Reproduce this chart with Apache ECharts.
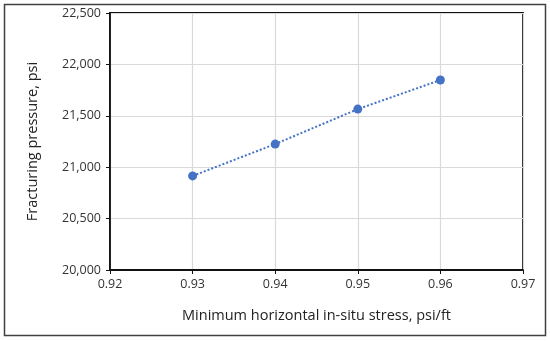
<!DOCTYPE html>
<html><head><meta charset="utf-8">
<script src="https://cdn.jsdelivr.net/npm/echarts@6/dist/echarts.min.js"></script>
<style>html,body{margin:0;padding:0;background:#fff}#c{width:550px;height:341px}</style>
</head><body><div id="c"></div>
<script>
const stress = [0.93, 0.94, 0.95, 0.96];
const pressure = [20915, 21225, 21565, 21848];
const xTitle = 'Minimum horizontal in-situ stress, psi/ft';
const yTitle = 'Fracturing pressure, psi';
const FONT = 'Open Sans';
const chart = echarts.init(document.getElementById('c'), null, {renderer: 'canvas'});
chart.setOption({
  animation: false,
  backgroundColor: '#fff',
  graphic: [{type: 'rect', shape: {x: 4.5, y: 4.5, width: 541, height: 331}, style: {fill: 'none', stroke: '#404040', lineWidth: 1.5}, z: 100}],
  grid: {left: 110, top: 13, right: 27, bottom: 71, show: true, borderColor: '#111', borderWidth: 1.8, backgroundColor: 'transparent'},
  xAxis: {
    type: 'value', min: 0.92, max: 0.97, interval: 0.01,
    name: xTitle, nameLocation: 'middle', nameGap: 38,
    nameTextStyle: {fontFamily: FONT, fontSize: 14.5, color: '#222'},
    axisLine: {show: true, lineStyle: {color: '#111', width: 1.8}},
    axisTick: {show: true, inside: false, length: 4, lineStyle: {color: '#111'}},
    axisLabel: {fontFamily: FONT, fontSize: 12.5, color: '#333', margin: 8, formatter: v => v.toFixed(2)},
    splitLine: {show: true, lineStyle: {color: '#d9d9d9', width: 1.2}}
  },
  yAxis: {
    type: 'value', min: 20000, max: 22500, interval: 500,
    name: yTitle, nameLocation: 'middle', nameGap: 70, nameRotate: 90,
    nameTextStyle: {fontFamily: FONT, fontSize: 14.5, color: '#222'},
    axisLine: {show: true, lineStyle: {color: '#111', width: 1.8}},
    axisTick: {show: true, inside: false, length: 4, lineStyle: {color: '#111'}},
    axisLabel: {fontFamily: FONT, fontSize: 12.5, color: '#333', margin: 9, formatter: v => v.toLocaleString('en-US')},
    splitLine: {show: true, lineStyle: {color: '#d9d9d9', width: 1.2}}
  },
  series: [{
    type: 'line',
    data: stress.map((x, i) => [x, pressure[i]]),
    symbol: 'circle', symbolSize: 9,
    itemStyle: {color: '#4472C4'},
    lineStyle: {color: '#4472C4', width: 2, type: [2, 2]}
  }]
});
</script></body></html>
